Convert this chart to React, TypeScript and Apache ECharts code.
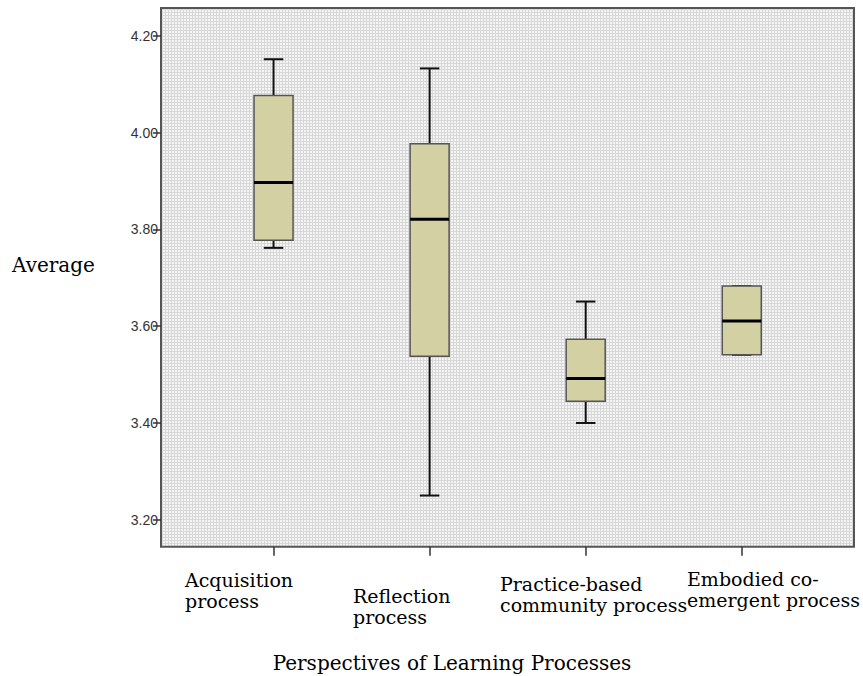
import React, { useEffect, useRef } from "react";
import * as echarts from "echarts";

const categories = [
  "Acquisition\nprocess",
  "Reflection\nprocess",
  "Practice-based\ncommunity process",
  "Embodied co-\nemergent process",
];
const minValues = [3.762, 3.25, 3.4, 3.541];
const q1Values = [3.778, 3.538, 3.445, 3.541];
const medianValues = [3.897, 3.821, 3.492, 3.611];
const q3Values = [4.077, 3.977, 3.573, 3.683];
const maxValues = [4.152, 4.133, 3.651, 3.683];
const yTicks = [3.2, 3.4, 3.6, 3.8, 4.0, 4.2];
const yMin = 3.1442;
const yMax = 4.2579;
const xTitle = "Perspectives of Learning Processes";
const yTitle = "Average";

// label layout (left x, top y) for each category label
const labelPos = [
  [185, 569],
  [353, 585],
  [500, 573],
  [687, 568],
];

function makePattern(): any {
  const c = document.createElement("canvas");
  c.width = 6;
  c.height = 6;
  const ctx = c.getContext("2d");
  if (!ctx) return "#ebebeb";
  ctx.fillStyle = "#f4f4f4";
  ctx.fillRect(0, 0, 6, 6);
  ctx.fillStyle = "#d8d8d8";
  for (let i = 0; i < 6; i++) {
    ctx.fillRect(i, 0, 1, 1);
    ctx.fillRect(0, i, 1, 1);
    ctx.fillRect(i, 3, 1, 1);
    ctx.fillRect(3, i, 1, 1);
  }
  return { image: c, repeat: "repeat" };
}

export default function App() {
  const ref = useRef<HTMLDivElement>(null);
  useEffect(() => {
    if (!ref.current) return;
    const chart = echarts.init(ref.current, undefined, { renderer: "svg" });
    const data = categories.map((_, i) => [
      i,
      minValues[i],
      q1Values[i],
      medianValues[i],
      q3Values[i],
      maxValues[i],
    ]);
    const serif = '"DejaVu Serif", "Liberation Serif", serif';
    const option: any = {
      animation: false,
      backgroundColor: "#ffffff",
      grid: [
        {
          left: 161,
          top: 8,
          width: 693,
          height: 538.7,
          show: true,
          backgroundColor: makePattern(),
          borderColor: "#555555",
          borderWidth: 2,
        },
        {
          left: 195.5,
          top: 8,
          width: 624.3,
          height: 538.7,
          show: false,
        },
      ],
      xAxis: [
        { type: "value", gridIndex: 0, show: false, min: 0, max: 1 },
        {
          type: "category",
          gridIndex: 1,
          data: categories,
          boundaryGap: true,
          axisLine: { show: false },
          axisTick: {
            show: true,
            alignWithLabel: true,
            length: 9,
            lineStyle: { color: "#333333", width: 1.5 },
          },
          axisLabel: { show: false },
          splitLine: { show: false },
        },
      ],
      yAxis: [
        {
          type: "value",
          gridIndex: 0,
          min: yMin,
          max: yMax,
          axisLine: { show: false },
          splitLine: { show: false },
          axisTick: {
            show: true,
            length: 8,
            customValues: yTicks,
            lineStyle: { color: "#333333", width: 1.5 },
          },
          axisLabel: {
            customValues: yTicks,
            formatter: (v: number) => v.toFixed(2),
            fontFamily: '"Liberation Sans", Arial, sans-serif',
            fontSize: 14,
            color: "#333333",
            margin: 3,
          },
        },
        {
          type: "value",
          gridIndex: 1,
          min: yMin,
          max: yMax,
          show: false,
          splitLine: { show: false },
        },
      ],
      series: [
        {
          type: "custom",
          xAxisIndex: 1,
          yAxisIndex: 1,
          data,
          encode: { x: 0, y: [1, 2, 3, 4, 5] },
          renderItem: (params: any, api: any) => {
            const x = api.value(0);
            const lo = api.coord([x, api.value(1)]);
            const q1 = api.coord([x, api.value(2)]);
            const med = api.coord([x, api.value(3)]);
            const q3 = api.coord([x, api.value(4)]);
            const hi = api.coord([x, api.value(5)]);
            const bw = api.size([1, 0])[0] * 0.25;
            const cx = lo[0];
            const half = bw / 2;
            const capHalf = bw / 4;
            const whisker = { stroke: "#111111", lineWidth: 2 };
            return {
              type: "group",
              children: [
                { type: "line", shape: { x1: cx, y1: hi[1], x2: cx, y2: q3[1] }, style: whisker },
                { type: "line", shape: { x1: cx, y1: q1[1], x2: cx, y2: lo[1] }, style: whisker },
                { type: "line", shape: { x1: cx - capHalf, y1: hi[1], x2: cx + capHalf, y2: hi[1] }, style: whisker },
                { type: "line", shape: { x1: cx - capHalf, y1: lo[1], x2: cx + capHalf, y2: lo[1] }, style: whisker },
                {
                  type: "rect",
                  shape: { x: cx - half, y: q3[1], width: bw, height: q1[1] - q3[1] },
                  style: { fill: "#d3d0a4", stroke: "#555555", lineWidth: 1.5 },
                },
                {
                  type: "line",
                  shape: { x1: cx - half, y1: med[1], x2: cx + half, y2: med[1] },
                  style: { stroke: "#000000", lineWidth: 3 },
                },
              ],
            };
          },
        },
      ],
      graphic: [
        {
          type: "text",
          x: 12,
          y: 265,
          style: {
            text: yTitle,
            font: `20px ${serif}`,
            fill: "#000000",
            align: "left",
            verticalAlign: "middle",
          },
        },
        {
          type: "text",
          x: 452,
          y: 663,
          style: {
            text: xTitle,
            font: `20px ${serif}`,
            fill: "#000000",
            align: "center",
            verticalAlign: "middle",
          },
        },
        ...categories.map((c, i) => ({
          type: "text",
          x: labelPos[i][0],
          y: labelPos[i][1],
          style: {
            text: c,
            font: `19px ${serif}`,
            fill: "#000000",
            align: "left",
            verticalAlign: "top",
            lineHeight: 21,
          },
        })),
      ],
    };
    chart.setOption(option);
    return () => chart.dispose();
  }, []);
  return (
    <div
      ref={ref}
      style={{ position: "absolute", left: 0, top: 0, width: 863, height: 676 }}
    />
  );
}
